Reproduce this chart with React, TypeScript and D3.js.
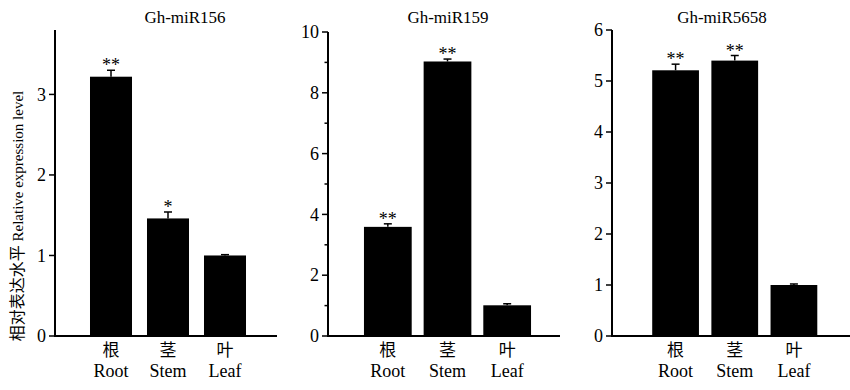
import React from "react";
import * as d3 from "d3";

const categoriesZh = ["根", "茎", "叶"];
const categoriesEn = ["Root", "Stem", "Leaf"];

const miR156Values = [3.22, 1.46, 1.0];
const miR156Errors = [0.08, 0.08, 0.01];
const miR156Sig = ["**", "*", ""];
const miR156Ticks = [0, 1, 2, 3];
const miR156Minor: number[] = [];

const miR159Values = [3.59, 9.03, 1.01];
const miR159Errors = [0.1, 0.08, 0.05];
const miR159Sig = ["**", "**", ""];
const miR159Ticks = [0, 2, 4, 6, 8, 10];
const miR159Minor = [1, 3, 5, 7, 9];

const miR5658Values = [5.21, 5.4, 1.0];
const miR5658Errors = [0.12, 0.1, 0.02];
const miR5658Sig = ["**", "**", ""];
const miR5658Ticks = [0, 1, 2, 3, 4, 5, 6];
const miR5658Minor: number[] = [];

const yLabelZh = "相对表达水平";
const yLabelEn = "Relative expression level";

const FONT = "'Liberation Serif', 'Times New Roman', 'Noto Sans CJK SC', serif";

type PanelCfg = {
  title: string;
  values: number[];
  errors: number[];
  sig: string[];
  ticks: number[];
  minor: number[];
  yMax: number;
  axisX: number;
  axisEnd: number;
  yTop: number;
  bandRange: [number, number];
  padInner: number;
  titleX: number;
};

const BASE_Y = 336;

const panels: PanelCfg[] = [
  {
    title: "Gh-miR156",
    values: miR156Values,
    errors: miR156Errors,
    sig: miR156Sig,
    ticks: miR156Ticks,
    minor: miR156Minor,
    yMax: 3.8,
    axisX: 55,
    axisEnd: 277,
    yTop: 30,
    bandRange: [82.5, 253.5],
    padInner: 0.263,
    titleX: 185,
  },
  {
    title: "Gh-miR159",
    values: miR159Values,
    errors: miR159Errors,
    sig: miR159Sig,
    ticks: miR159Ticks,
    minor: miR159Minor,
    yMax: 10,
    axisX: 328,
    axisEnd: 560,
    yTop: 32,
    bandRange: [358, 537],
    padInner: 0.2,
    titleX: 448,
  },
  {
    title: "Gh-miR5658",
    values: miR5658Values,
    errors: miR5658Errors,
    sig: miR5658Sig,
    ticks: miR5658Ticks,
    minor: miR5658Minor,
    yMax: 6,
    axisX: 612,
    axisEnd: 850,
    yTop: 30,
    bandRange: [646, 823.5],
    padInner: 0.21,
    titleX: 722,
  },
];

function Panel({ cfg }: { cfg: PanelCfg }) {
  const y = d3.scaleLinear().domain([0, cfg.yMax]).range([BASE_Y, cfg.yTop]);
  const x = d3
    .scaleBand<string>()
    .domain(categoriesEn)
    .range(cfg.bandRange)
    .paddingInner(cfg.padInner)
    .paddingOuter(cfg.padInner / 2);
  const bw = x.bandwidth();
  return (
    <g>
      <text x={cfg.titleX} y={23} textAnchor="middle" fontSize={17} fontFamily={FONT}>
        {cfg.title}
      </text>
      {cfg.values.map((v, i) => {
        const cat = categoriesEn[i];
        const x0 = x(cat)!;
        const cx = x0 + bw / 2;
        const errTop = y(v + cfg.errors[i]);
        return (
          <g key={cat}>
            <rect x={x0} y={y(v)} width={bw} height={BASE_Y - y(v)} fill="#000" />
            <line x1={cx} x2={cx} y1={y(v)} y2={errTop} stroke="#000" strokeWidth={1.5} />
            <line x1={cx - 4} x2={cx + 4} y1={errTop} y2={errTop} stroke="#000" strokeWidth={1.5} />
            {cfg.sig[i] && (
              <text x={cx} y={errTop + 1} textAnchor="middle" fontSize={18} fontFamily={FONT}>
                {cfg.sig[i]}
              </text>
            )}
            <text x={cx} y={356} textAnchor="middle" fontSize={17} fontFamily={FONT}>
              {categoriesZh[i]}
            </text>
            <text x={cx} y={377} textAnchor="middle" fontSize={18} fontFamily={FONT}>
              {cat}
            </text>
          </g>
        );
      })}
      <line x1={cfg.axisX} x2={cfg.axisX} y1={cfg.yTop} y2={BASE_Y} stroke="#000" strokeWidth={2} />
      <line x1={cfg.axisX - 1} x2={cfg.axisEnd} y1={BASE_Y} y2={BASE_Y} stroke="#000" strokeWidth={2} />
      {cfg.ticks.map((t) => (
        <g key={"t" + t}>
          <line x1={cfg.axisX - 6} x2={cfg.axisX} y1={y(t)} y2={y(t)} stroke="#000" strokeWidth={1.5} />
          <text
            x={cfg.axisX - 9}
            y={y(t)}
            dy="0.34em"
            textAnchor="end"
            fontSize={18}
            fontFamily={FONT}
          >
            {t}
          </text>
        </g>
      ))}
      {cfg.minor.map((t) => (
        <line key={"m" + t} x1={cfg.axisX - 3.5} x2={cfg.axisX} y1={y(t)} y2={y(t)} stroke="#000" strokeWidth={1.5} />
      ))}
    </g>
  );
}

export default function App() {
  return (
    <svg
      width={850}
      height={390}
      style={{ position: "absolute", left: 0, top: 0, background: "#fff" }}
    >
      <rect width={850} height={390} fill="#fff" />
      <text
        transform="translate(23,216) rotate(-90)"
        textAnchor="middle"
        fontFamily={FONT}
      >
        <tspan fontSize={16}>{yLabelZh}</tspan>
        <tspan fontSize={15}>{" " + yLabelEn}</tspan>
      </text>
      {panels.map((p) => (
        <Panel key={p.title} cfg={p} />
      ))}
    </svg>
  );
}
